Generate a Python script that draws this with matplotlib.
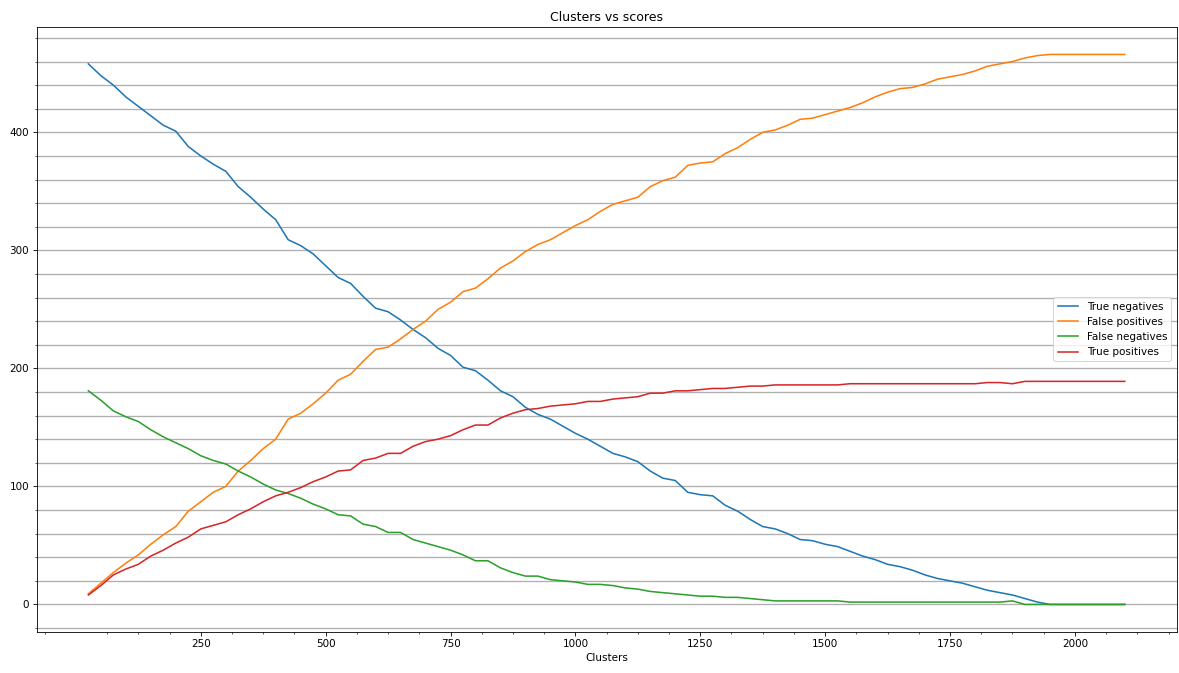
"""
Clusters vs scores - confusion counts per number of clusters
"""

import matplotlib
matplotlib.use("Agg")
import matplotlib.pyplot as plt
from matplotlib.ticker import AutoMinorLocator, FixedLocator
import numpy as np

# cluster counts 25, 50, ..., 2100
clusters = list(range(25, 2101, 25))

true_negatives = [
    458, 448, 440, 430, 422, 414, 406, 401, 388, 380, 373, 367, 354, 345, 335, 326,
    309, 304, 297, 287, 277, 272, 261, 251, 248, 241, 233, 226, 217, 211, 201,
    198, 190, 181, 176, 167, 161, 157, 151, 145, 140, 134, 128, 125, 121, 113, 107,
    105, 95, 93, 92, 84, 79, 72, 66, 64, 60, 55, 54, 51, 49, 45, 41,
    38, 34, 32, 29, 25, 22, 20, 18, 15, 12, 10, 8, 5, 2, 0,
    0, 0, 0, 0, 0, 0,
]
false_positives = [
    9, 18, 27, 35, 42, 51, 59, 66, 79, 87, 95, 100, 113, 122, 132, 140,
    157, 162, 170, 179, 190, 195, 206, 216, 218, 225, 233, 240, 250, 256, 265,
    268, 276, 285, 291, 299, 305, 309, 315, 321, 326, 333, 339, 342, 345, 354, 359,
    362, 372, 374, 375, 382, 387, 394, 400, 402, 406, 411, 412, 415, 418, 421, 425,
    430, 434, 437, 438, 441, 445, 447, 449, 452, 456, 458, 460, 463, 465, 466,
    466, 466, 466, 466, 466, 466,
]
false_negatives = [
    181, 173, 164, 159, 155, 148, 142, 137, 132, 126, 122, 119, 113, 108, 102, 97,
    94, 90, 85, 81, 76, 75, 68, 66, 61, 61, 55, 52, 49, 46, 42,
    37, 37, 31, 27, 24, 24, 21, 20, 19, 17, 17, 16, 14, 13, 11, 10,
    9, 8, 7, 7, 6, 6, 5, 4, 3, 3, 3, 3, 3, 3, 2, 2,
    2, 2, 2, 2, 2, 2, 2, 2, 2, 2, 2, 3, 0, 0, 0,
    0, 0, 0, 0, 0, 0,
]
true_positives = [
    8, 16, 25, 30, 34, 41, 46, 52, 57, 64, 67, 70, 76, 81, 87, 92,
    95, 99, 104, 108, 113, 114, 122, 124, 128, 128, 134, 138, 140, 143, 148,
    152, 152, 158, 162, 165, 166, 168, 169, 170, 172, 172, 174, 175, 176, 179, 179,
    181, 181, 182, 183, 183, 184, 185, 185, 186, 186, 186, 186, 186, 186, 187, 187,
    187, 187, 187, 187, 187, 187, 187, 187, 187, 188, 188, 187, 189, 189, 189,
    189, 189, 189, 189, 189, 189,
]

DPI = 75
fig, ax = plt.subplots(figsize=(1179 / DPI, 673 / DPI), dpi=DPI)
fig.subplots_adjust(left=0.031, right=0.998, bottom=0.061, top=0.96)

ax.plot(clusters, true_negatives, label="True negatives")
ax.plot(clusters, false_positives, label="False positives")
ax.plot(clusters, false_negatives, label="False negatives")
ax.plot(clusters, true_positives, label="True positives")

ax.set_title("Clusters vs scores")
ax.set_xlabel("Clusters")

# x ticks: labelled every 250, minor ticks every 62.5 (none on multiples of 250)
ax.set_xticks(range(250, 2001, 250))
xmin, xmax = ax.get_xlim()
minor_x = [m for m in np.arange(-250, 2500, 62.5)
           if xmin <= m <= xmax and m % 250 != 0]
ax.xaxis.set_minor_locator(FixedLocator(minor_x))
ax.yaxis.set_minor_locator(AutoMinorLocator())

ax.grid(axis="y", which="both", color="#b0b0b0", linewidth=1.3)
ax.legend(loc="center right")

fig.savefig("out.png", dpi=DPI)
